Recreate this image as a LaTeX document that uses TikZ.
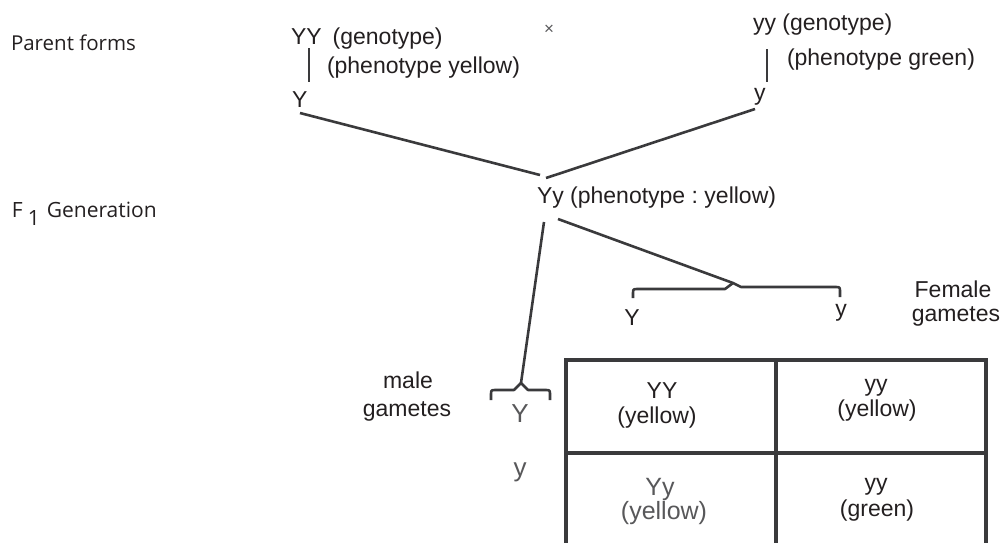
\documentclass[tikz,border=0pt]{standalone}
\usepackage{fontspec}
\setmainfont{Liberation Sans}
\newfontfamily\myr{Open Sans}
\usetikzlibrary{calc}
\definecolor{ink}{HTML}{231F20}
\definecolor{gry}{HTML}{58585A}
\definecolor{ln}{HTML}{3A3A3C}
\frenchspacing
\begin{document}
\begin{tikzpicture}[x=1pt,y=-1pt,
  lbl/.style={inner sep=0pt, outer sep=0pt, anchor=base west, text=ink, font=\fontsize{23}{26}\selectfont},
  lblc/.style={lbl, anchor=base},
  glbl/.style={lblc, text=gry, font=\fontsize{26}{29}\selectfont},
  side/.style={lbl, font=\myr\fontsize{20.5}{24}\selectfont},
  conn/.style={draw=ln, line width=2.6pt},
  grid/.style={draw=ln, line width=3.2pt, line join=miter}]
\useasboundingbox (0,0) rectangle (1005,542);

% left labels
\node[side] (pf) at (11,50) {Parent forms};
\node[side, font=\myr\fontsize{21}{24}\selectfont] (gen) at (12,217) {F\hspace{5pt}\raisebox{-8pt}{1}\hspace{7pt}Generation};

% parents
\node[lbl] (YYg) at (291,44) {YY\hspace{0.48em}(genotype)};
\node[lbl] (ph1) at (327,73) {(phenotype yellow)};
\node[lbl] (Y1) at (292,107) {Y};
\node[inner sep=0pt, text=gry, font=\fontsize{17}{19}\selectfont] (cross) at (549,30) {×};
\node[lbl] (yyg) at (753,30) {yy (genotype)};
\node[lbl] (ph2) at (787,65) {(phenotype green)};
\node[lbl] (y1) at (754,100) {y};

\coordinate (v1a) at (309,48); \coordinate (v1b) at (309,82);
\coordinate (v2a) at (767,49); \coordinate (v2b) at (767,82);
\draw[conn] (v1a) -- (v1b);
\draw[conn] (v2a) -- (v2b);

% F1
\node[lbl] (F1) at (537,203) {Yy (phenotype : yellow)};
\coordinate (Yout) at (300,113);
\coordinate (yout) at (755,109);
\coordinate (F1inL) at (540,175);
\coordinate (F1inR) at (546,178);
\coordinate (F1outM) at (544,222);
\coordinate (F1outF) at (558,219);
\coordinate (fTip) at (733,283);
\coordinate (mTip) at (521,383);
\draw[conn] (Yout) -- (F1inL);
\draw[conn] (yout) -- (F1inR);
\draw[conn] (F1outM) -- (mTip);
\draw[conn] (F1outF) -- (fTip);

% female brace
\draw[conn, line join=round] (633,298) -- (633,294) .. controls (633,289) .. (638,289) -- (725,289) -- (fTip) -- (741,287) -- (835,287) .. controls (840,287) .. (840,292) -- (840,297);
\node[lblc] (fY) at (632,325) {Y};
\node[lblc] (fy) at (841,316) {y};
\node[lblc] (fem) at (953,297) {Female};
\node[lblc] (femg) at (956,321) {gametes};

% male brace
\draw[conn, line join=round] (491,400) -- (491,395) .. controls (491,390) .. (496,390) -- (514,390) -- (mTip) -- (528,390) -- (545,390) .. controls (550,390) .. (550,395) -- (550,400);
\node[lblc] (mal) at (408,388) {male};
\node[lblc] (malg) at (407,416) {gametes};
\node[glbl] (mY) at (520,422) {Y};
\node[glbl] (my) at (520,476) {y};

% Punnett square (open at the bottom)
\draw[grid] (566,545) -- (566,360) -- (986,360) -- (986,545);
\draw[grid] (566,453) -- (986,453);
\draw[grid] (776,360) -- (776,545);

\node[lblc] (c1a) at (662,398) {YY};
\node[lblc] (c1b) at (657,423) {(yellow)};
\node[lblc] (c2a) at (876,391) {yy};
\node[lblc] (c2b) at (877,416) {(yellow)};
\node[glbl, font=\fontsize{25}{28}\selectfont] (c3a) at (660,495) {Yy};
\node[glbl, font=\fontsize{25}{28}\selectfont] (c3b) at (664,519) {(yellow)};
\node[lblc] (c4a) at (876,490) {yy};
\node[lblc] (c4b) at (877,516) {(green)};
\end{tikzpicture}
\end{document}
